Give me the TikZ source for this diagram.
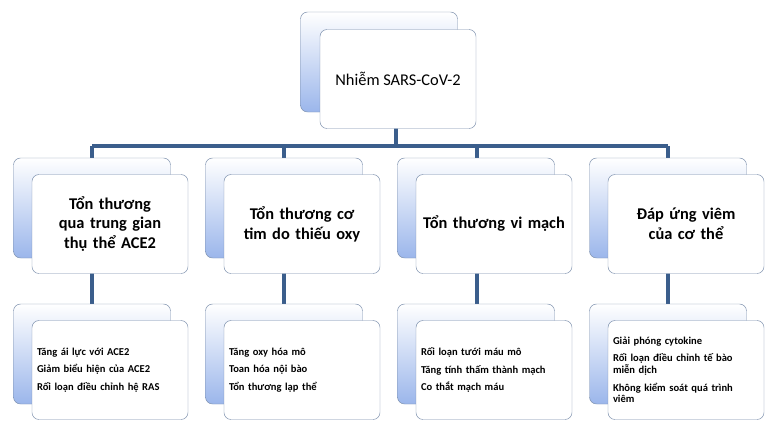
\documentclass[tikz,border=0pt]{standalone}
\usepackage{fontspec}
\setmainfont{Carlito}
\usetikzlibrary{positioning}
\definecolor{linkblue}{RGB}{59,94,140}
\definecolor{edgeblue}{RGB}{120,140,170}
\definecolor{shadeblue}{RGB}{155,182,235}
\tikzset{
    % shaded box behind
    backbox/.style={
           rectangle, rounded corners=6pt,
           draw=edgeblue, thin,
           top color=white, bottom color=shadeblue,
           minimum width=157*0.03cm, minimum height=100*0.03cm},
    % white box in front
    frontbox/.style={
           rectangle, rounded corners=6pt,
           draw=edgeblue, thin, fill=white,
           minimum width=156*0.03cm, minimum height=99*0.03cm,
           align=center},
    head/.style={font=\bfseries\fontsize{14}{17}\selectfont, text width=148*0.03cm},
    items/.style={font=\bfseries\fontsize{9}{15}\selectfont, align=left, text width=146*0.03cm},
    link/.style={draw=linkblue, line width=3pt}
}
\begin{document}
\begin{tikzpicture}[x=0.03cm,y=-0.03cm]
  \useasboundingbox (0,0) rectangle (774,440);
  % connectors first, boxes hide their ends
  \coordinate (topc) at (396,70);
  \coordinate (bus) at (396,146);
  \foreach \i/\x in {1/92,2/284,3/477,4/668}{
    \coordinate (drop\i) at (\x,146);
    \coordinate (up\i) at (\x,200);
    \coordinate (low\i) at (\x,360);
  }
  \draw[link] (drop1) -- (drop4);
  \draw[link] (topc) -- (bus);
  \foreach \i in {1,...,4}{
    \draw[link] (drop\i) -- (up\i);
    \draw[link] (up\i) -- (low\i);
  }
  % top
  \node[backbox] (topback) at (379,62) {};
  \node[frontbox, font=\fontsize{14}{17}\selectfont] (top) at (398,79) {Nhiễm SARS-CoV-2};
  % second row
  \foreach \i/\x/\t in {1/92/{Tổn thương qua trung gian thụ thể ACE2},
                        2/284/{Tổn thương cơ tim do thiếu oxy},
                        3/476/{Tổn thương vi mạch},
                        4/668/{Đáp ứng viêm của cơ thể}}{
    \node[backbox] (causeback\i) at (\x,208) {};
    \node[frontbox, head] (cause\i) at (\x+18,224) {\t};
  }
  % third row
  \foreach \i/\x/\t in {1/92/{Tăng ái lực với ACE2\\Giảm biểu hiện của ACE2\\Rối loạn điều chỉnh hệ RAS},
                        2/284/{Tăng oxy hóa mô\\Toan hóa nội bào\\Tổn thương lạp thể},
                        3/476/{Rối loạn tưới máu mô\\Tăng tính thấm thành mạch\\Co thắt mạch máu},
                        4/668/{Giải phóng cytokine\\Rối loạn điều chỉnh tế bào\\[-5pt] miễn dịch\\Không kiểm soát quá trình\\[-5pt] viêm}}{
    \node[backbox] (effectback\i) at (\x,354) {};
    \node[frontbox, items] (effect\i) at (\x+18,370) {\t};
  }
\end{tikzpicture}
\end{document}
